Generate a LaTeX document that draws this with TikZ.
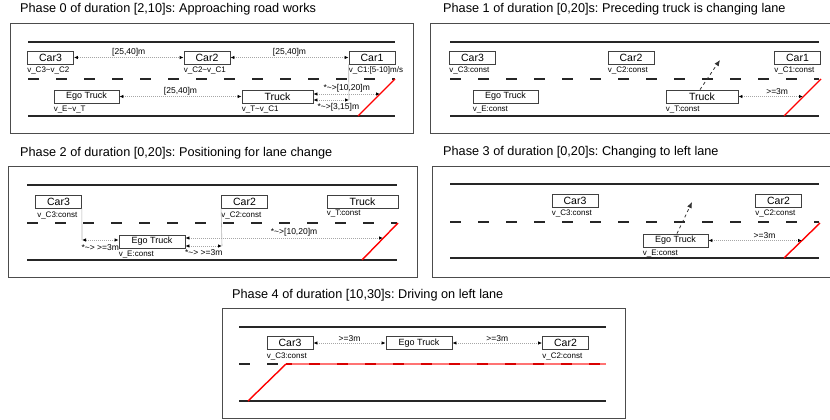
\documentclass[tikz,border=0pt]{standalone}
\usepackage{fontspec}
\setmainfont{Liberation Sans}
\usetikzlibrary{arrows.meta}
\frenchspacing

\begin{document}
\begin{tikzpicture}[x=1pt, y=-1pt,
    title/.style={anchor=west, inner sep=0, font=\fontsize{12.7}{13}\selectfont},
    frame/.style={draw=black!70, line width=0.8pt},
    road/.style={line width=1.6pt, black!85},
    lane/.style={line width=1.6pt, black!85, dash pattern=on 11pt off 17pt},
    barrier/.style={red, line width=1.4pt},
    car/.style={draw=black!75, line width=0.8pt, fill=white, minimum width=46pt, minimum height=13pt, inner sep=0, font=\fontsize{10.5}{11}\selectfont},
    ego/.style={car, minimum width=65pt, font=\fontsize{9}{10}\selectfont},
    vel/.style={anchor=north west, inner sep=0, yshift=-2.5pt, font=\fontsize{8}{8}\selectfont},
    gap/.style={black!35, densely dotted, line width=1pt, {Latex[length=4pt,width=3.5pt,color=black]}-{Latex[length=4pt,width=3.5pt,color=black]}},
    dist/.style={text=black, font=\fontsize{8.5}{9}\selectfont, inner sep=1pt},
    move/.style={dashed, black!80, line width=0.8pt, -{Latex[length=6pt,width=5pt]}},
    guide/.style={black!30, line width=0.6pt}
]
\useasboundingbox (0,0) rectangle (830,420);

% phase 0
\node[title] (t0) at (20,9) {Phase 0 of duration [2,10]s: Approaching road works};
\draw[frame] (10,23) rectangle (413,133);
\draw[road] (28,42) -- (395,42);
\draw[lane] (28,79) -- (395,79);
\draw[road] (28,116) -- (395,116);
\node[car] (c3a) at (50.5,57.5) {Car3};
\node[car] (c2a) at (207,57.5) {Car2};
\node[car] (c1a) at (372,57.5) {Car1};
\node[ego] (ea) at (86.5,96.5) {Ego Truck};
\node[car, minimum width=71pt] (ta) at (277.5,96.5) {Truck};
\node[vel] at (c3a.south west) {v\_C3\textasciitilde v\_C2};
\node[vel] at (c2a.south west) {v\_C2\textasciitilde v\_C1};
\node[vel] at (c1a.south west) {v\_C1:[5-10]m/s};
\node[vel] at (ea.south west) {v\_E\textasciitilde v\_T};
\node[vel] at (ta.south west) {v\_T\textasciitilde v\_C1};
\coordinate (wa1) at (358,116);
\coordinate (wa2) at (395,79);
\coordinate (xa) at (380,94);
\coordinate (ya) at (349,100);
\draw[barrier] (wa1) -- (wa2);
\draw[guide] (c1a.south west) -- (ya);
\draw[gap] (c3a) -- node[dist, above] {[25,40]m} (c2a);
\draw[gap] (c2a) -- node[dist, above] {[25,40]m} (c1a);
\draw[gap] (ea) -- node[dist, above] {[25,40]m} (ta);
\draw[gap] (ta.east |- xa) -- node[dist, above] {*\textasciitilde>[10,20]m} (xa);
\draw[gap] (ta.east |- ya) -- node[dist, below=2pt, pos=0.7] {*\textasciitilde>[3,15]m} (ya);

% phase 1
\node[title] (t1) at (443,9) {Phase 1 of duration [0,20]s: Preceding truck is changing lane};
\draw[frame] (832,23) -- (430,23) -- (430,133) -- (832,133);
\draw[road] (450,42) -- (819,42);
\draw[lane] (450,79) -- (819,79);
\draw[road] (450,116) -- (819,116);
\node[car] (c3b) at (472.5,57.5) {Car3};
\node[car] (c2b) at (631,57.5) {Car2};
\node[car] (c1b) at (797.5,57.5) {Car1};
\node[ego] (eb) at (505.5,96.5) {Ego Truck};
\node[car, minimum width=72pt] (tb) at (702,96.5) {Truck};
\node[vel] at (c3b.south west) {v\_C3:const};
\node[vel] at (c2b.south west) {v\_C2:const};
\node[vel] at (c1b.south west) {v\_C1:const};
\node[vel] at (eb.south west) {v\_E:const};
\node[vel] at (tb.south west) {v\_T:const};
\coordinate (wb1) at (784,116);
\coordinate (wb2) at (821,79);
\coordinate (xb) at (803,96.5);
\coordinate (mb) at (720,60);
\draw[barrier] (wb1) -- (wb2);
\draw[move] ([xshift=-2pt]tb.north) -- (mb);
\draw[gap] (tb) -- node[dist, above, pos=0.6] {>=3m} (xb);

% phase 2
\node[title] (t2) at (20,153) {Phase 2 of duration [0,20]s: Positioning for lane change};
\draw[frame] (8,166) rectangle (417,277);
\draw[road] (27,185) -- (397,185);
\draw[lane] (27,223) -- (397,223);
\draw[road] (27,260) -- (397,260);
\node[car] (c3c) at (58.5,201.5) {Car3};
\node[car] (c2c) at (244.5,201.5) {Car2};
\node[car, minimum width=71pt] (tc) at (362.5,201.5) {Truck};
\node[ego, minimum width=66pt] (ec) at (152,241.5) {Ego Truck};
\node[vel, yshift=-1pt] at (c3c.south west) {\hspace{2pt}v\_C3:const};
\node[vel, yshift=-1pt] at (c2c.south west) {v\_C2:const};
\node[vel, yshift=1pt] at (tc.south west) {v\_T:const};
\node[vel] at (ec.south west) {v\_E:const};
\coordinate (wc1) at (362,260);
\coordinate (wc2) at (398,223);
\coordinate (xc) at (383,238);
\coordinate (pc) at (82,240);
\coordinate (qc) at (222,246);
\draw[barrier] (wc1) -- (wc2);
\draw[guide] (c3c.south east) -- (pc);
\draw[guide] (c2c.south west) -- (qc);
\draw[gap] (ec.west |- pc) -- node[dist, below=3pt] {*\textasciitilde> >=3m} (pc);
\draw[gap] (ec.east |- qc) -- node[dist, below=2pt] {*\textasciitilde> >=3m} (qc);
\draw[gap] (ec.east |- xc) -- node[dist, above, pos=0.55] {*\textasciitilde>[10,20]m} (xc);

% phase 3
\node[title] (t3) at (443,152) {Phase 3 of duration [0,20]s: Changing to left lane};
\draw[frame] (832,166) -- (432,166) -- (432,277) -- (832,277);
\draw[road] (450,184) -- (819,184);
\draw[lane] (450,222) -- (819,222);
\draw[road] (450,258) -- (819,258);
\node[car] (c3d) at (575,200.5) {Car3};
\node[car] (c2d) at (778.5,200.5) {Car2};
\node[ego] (ed) at (675.5,240.5) {Ego Truck};
\node[vel] at (c3d.south west) {v\_C3:const};
\node[vel] at (c2d.south west) {v\_C2:const};
\node[vel] at (ed.south west) {v\_E:const};
\coordinate (wd1) at (784,258);
\coordinate (wd2) at (820,223);
\coordinate (xd) at (802,240.5);
\coordinate (md) at (692,202);
\draw[barrier] (wd1) -- (wd2);
\draw[move] ([xshift=1.5pt]ed.north) -- (md);
\draw[gap] (ed) -- node[dist, above, pos=0.6] {>=3m} (xd);

% phase 4
\node[title] (t4) at (232,295) {Phase 4 of duration [10,30]s: Driving on left lane};
\draw[frame] (222,308) rectangle (625,418);
\draw[road] (239,327) -- (606,327);
\draw[lane] (239,364) -- (606,364);
\draw[road] (239,401) -- (606,401);
\coordinate (we1) at (248,401);
\coordinate (we2) at (286,364);
\coordinate (we3) at (606,364);
\draw[barrier, red!55, line width=1.8pt] (we2) -- (we3);
\draw[lane, red!85!black, dash phase=5pt] (we2) -- (we3);
\draw[barrier] (we1) -- (we2);
\node[car] (c3e) at (290,343) {Car3};
\node[ego, minimum width=66pt] (ee) at (419,343) {Ego Truck};
\node[car] (c2e) at (565.5,343) {Car2};
\node[vel] at (c3e.south west) {v\_C3:const};
\node[vel] at (c2e.south west) {v\_C2:const};
\draw[gap] (c3e) -- node[dist, above] {>=3m} (ee);
\draw[gap] (ee) -- node[dist, above] {>=3m} (c2e);
\end{tikzpicture}
\end{document}
